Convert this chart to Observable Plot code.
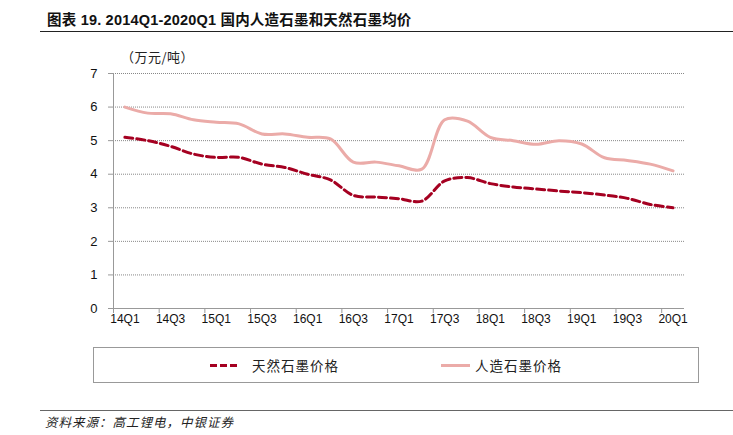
<!DOCTYPE html>
<html><head><meta charset="utf-8">
<script src="https://cdn.jsdelivr.net/npm/d3@7"></script>
<script src="https://cdn.jsdelivr.net/npm/@observablehq/plot@0.6"></script>
<style>
body{margin:0;background:#fff;width:733px;height:435px;overflow:hidden;font-family:"Liberation Sans","Noto Sans CJK SC",sans-serif;}
#wrap{position:relative;width:733px;height:435px;}
#title{position:absolute;left:47px;top:8px;font-size:14.5px;font-weight:bold;color:#111;font-family:"Liberation Sans Narrow","Liberation Sans","Noto Sans CJK SC",sans-serif;letter-spacing:0.2px;}
#tline{position:absolute;left:40px;top:31px;width:693px;height:0;border-top:1.5px solid #222;}
#unit{position:absolute;left:121px;top:47px;font-size:13px;letter-spacing:0.5px;color:#222;font-family:"Noto Sans CJK SC",sans-serif;}
#chart{position:absolute;left:0;top:34px;}
#legend{position:absolute;left:93px;top:347px;width:606px;height:36px;border:1px solid #999;box-sizing:border-box;}
#legend svg{position:absolute;left:0;top:0;}
.lt{position:absolute;top:7px;font-size:13.5px;letter-spacing:1px;color:#222;font-family:"Noto Sans CJK SC",sans-serif;}
#fline{position:absolute;left:40px;top:410px;width:693px;border-top:1.5px solid #666;}
#src{position:absolute;left:45px;top:412px;font-size:12.5px;letter-spacing:1px;font-style:italic;color:#222;font-family:"Noto Sans CJK SC",sans-serif;}
</style></head>
<body><div id="wrap">
<div id="title">图表 19. 2014Q1-2020Q1 国内人造石墨和天然石墨均价</div>
<div id="tline"></div>
<div id="unit">（万元/吨）</div>
<div id="chart"></div>
<div id="legend">
<svg width="606" height="36">
<line x1="116" x2="146" y1="17.5" y2="17.5" stroke="#A50021" stroke-width="3" stroke-dasharray="7 3"/>
<line x1="347" x2="376" y1="17.5" y2="17.5" stroke="#EBABA8" stroke-width="3"/>
</svg>
<div class="lt" style="left:158px">天然石墨价格</div>
<div class="lt" style="left:381px">人造石墨价格</div>
</div>
<div id="fline"></div>
<div id="src">资料来源：高工锂电，中银证券</div>
</div>
<script>
const quarters = ["14Q1","14Q2","14Q3","14Q4","15Q1","15Q2","15Q3","15Q4","16Q1","16Q2","16Q3","16Q4","17Q1","17Q2","17Q3","17Q4","18Q1","18Q2","18Q3","18Q4","19Q1","19Q2","19Q3","19Q4","20Q1"];
const natural = [5.1,5.0,4.83,4.6,4.5,4.5,4.3,4.2,4.0,3.83,3.37,3.32,3.27,3.2,3.8,3.9,3.72,3.62,3.56,3.5,3.45,3.38,3.28,3.1,3.0];
const synthetic = [6.0,5.82,5.8,5.62,5.55,5.5,5.2,5.2,5.1,5.05,4.36,4.36,4.25,4.15,5.62,5.58,5.1,5.0,4.89,5.0,4.9,4.49,4.41,4.3,4.1];
const yTicks = [0,1,2,3,4,5,6,7];

const rows = (vals, name) => vals.map((v, i) => ({i, q: quarters[i], v, name}));
const labelIdx = quarters.map((q, i) => i).filter(i => i % 2 === 0);
const bounds = labelIdx.slice(0, -1).map(i => i - 0.5).concat([23.5]);

const chart = Plot.plot({
  width: 733,
  height: 300,
  marginLeft: 113,
  marginRight: 49,
  marginTop: 39,
  marginBottom: 26,
  style: {fontFamily: "Liberation Sans, Arial, sans-serif", fontSize: "12px", color: "#111", background: "transparent"},
  x: {type: "linear", domain: [-0.5, 24.5]},
  y: {domain: [0, 7]},
  marks: [
    Plot.ruleY(yTicks.filter(d => d > 0), {stroke: "#888", strokeWidth: 1, strokeDasharray: "1 1"}),
    Plot.ruleX([-0.5], {stroke: "#999"}),
    Plot.ruleY([0], {stroke: "#999"}),
    Plot.axisY({ticks: yTicks, tickSize: 5, tickPadding: 11, tickFormat: d => String(d), stroke: "#999", fontSize: 13, label: null}),
    Plot.axisX({ticks: labelIdx, tickSize: 0, tickPadding: 6, tickFormat: i => quarters[i], fontSize: 12, label: null}),
    Plot.axisX({ticks: bounds, tickSize: 5, tickFormat: () => "", stroke: "#999", label: null}),
    Plot.line(rows(synthetic, "人造石墨价格"), {x: "i", y: "v", stroke: "#EBABA8", strokeWidth: 3, curve: "catmull-rom"}),
    Plot.line(rows(natural, "天然石墨价格"), {x: "i", y: "v", stroke: "#A50021", strokeWidth: 3, strokeDasharray: "8 4", curve: "catmull-rom"})
  ]
});
document.getElementById("chart").appendChild(chart);
</script>
</body></html>
